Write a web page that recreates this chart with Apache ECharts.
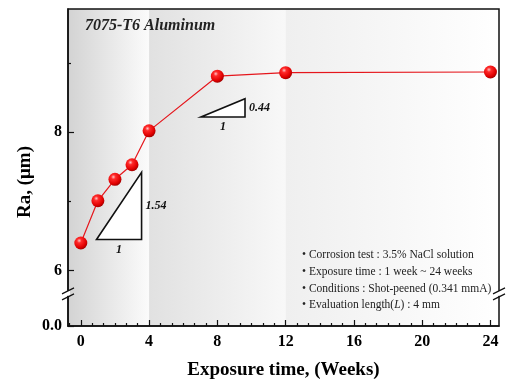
<!DOCTYPE html>
<html>
<head>
<meta charset="utf-8">
<script src="https://cdn.jsdelivr.net/npm/echarts@6.0.0/dist/echarts.min.js"></script>
<style>
html, body { margin: 0; padding: 0; background: #fff; }
#main { width: 508px; height: 385px; }
</style>
</head>
<body>
<div id="main"></div>
<script>
// Ra vs exposure time
const weeks = [0, 1, 2, 3, 4, 8, 12, 24];
const roughness = [6.40, 7.01, 7.32, 7.53, 8.02, 8.81, 8.86, 8.87];
const xTicks = [0, 4, 8, 12, 16, 20, 24];
const yTicks = [0, 6, 8];
const yMinorTicks = [7, 9];
// slope triangles (corners in data units) and their labels
const slopeTriangles = [
    [[0.92, 6.45], [3.56, 6.45], [3.56, 7.42]],
    [[7.04, 8.22], [9.62, 8.22], [9.62, 8.485]],
];
const slopeLabels = ['1.54', '0.44'];
const notes = [
    'Corrosion test : 3.5% NaCl solution',
    'Exposure time : 1 week ~ 24 weeks',
    'Conditions : Shot-peened (0.341 mmA)',
    'Evaluation length(L) : 4 mm',
];
const bands = [
    [-0.75, 4, '#d3d3d3', '#fbfbfb'],
    [4, 12, '#e1e1e1', '#f8f8f8'],
    [12, 24.5, '#efefef', '#ffffff'],
];

const xMinor = [];
for (let k = -1; k <= 36; k++) {
    if (k % 6 !== 0) xMinor.push(k * 2 / 3);
}

const serif = 'Liberation Serif';
const yBreak = { start: 0.43, end: 5.7, gap: '1.5%' };
const axisColor = '#111';

const chart = echarts.init(document.getElementById('main'));

const option = {
    animation: false,
    grid: {
        left: 68,
        right: 9,
        top: 9,
        bottom: 58,
        show: true,
        borderColor: axisColor,
        borderWidth: 1.5,
        backgroundColor: 'transparent',
    },
    xAxis: [
        {
            type: 'value',
            min: -0.75,
            max: 24.5,
            position: 'bottom',
            name: 'Exposure time, (Weeks)',
            nameLocation: 'middle',
            nameGap: 35,
            nameTextStyle: {
                fontFamily: serif,
                fontWeight: 'bold',
                fontSize: 19,
                color: '#000',
            },
            axisLine: { show: true, onZero: false, lineStyle: { color: axisColor, width: 1.5 } },
            axisTick: {
                inside: true,
                length: 6,
                customValues: xTicks,
                lineStyle: { color: axisColor, width: 1.2 },
            },
            axisLabel: {
                customValues: xTicks,
                fontFamily: serif,
                fontWeight: 'bold',
                fontSize: 16,
                color: '#000',
                margin: 8,
            },
            splitLine: { show: false },
        },
        {
            type: 'value',
            min: -0.75,
            max: 24.5,
            position: 'bottom',
            axisLine: { show: false, onZero: false },
            axisTick: {
                inside: true,
                length: 3,
                customValues: xMinor,
                lineStyle: { color: axisColor, width: 1.2 },
            },
            axisLabel: { show: false },
            splitLine: { show: false },
        },
    ],
    yAxis: [
        {
            type: 'value',
            min: 0,
            max: 9.78,
            position: 'left',
            breaks: [yBreak],
            breakArea: { show: false, itemStyle: { opacity: 0 } },
            axisLine: { show: true, onZero: false, lineStyle: { color: axisColor, width: 1.5 } },
            axisTick: {
                inside: true,
                length: 6,
                customValues: yTicks,
                lineStyle: { color: axisColor, width: 1.2 },
            },
            axisLabel: {
                customValues: yTicks,
                formatter: (v) => (v === 0 ? '0.0' : String(v)),
                fontFamily: serif,
                fontWeight: 'bold',
                fontSize: 16,
                color: '#000',
                margin: 6,
            },
            splitLine: { show: false },
        },
        {
            type: 'value',
            min: 0,
            max: 9.78,
            position: 'left',
            breaks: [yBreak],
            breakArea: { show: false, itemStyle: { opacity: 0 } },
            axisLine: { show: false, onZero: false },
            axisTick: {
                inside: true,
                length: 3,
                customValues: yMinorTicks,
                lineStyle: { color: axisColor, width: 1.2 },
            },
            axisLabel: { show: false },
            splitLine: { show: false },
        },
    ],
    series: [
        {
            // background bands
            type: 'line',
            data: [],
            z: -2,
            silent: true,
            markArea: {
                silent: true,
                z: -2,
                data: bands.map((b) => [
                    {
                        xAxis: b[0],
                        itemStyle: {
                            color: new echarts.graphic.LinearGradient(0, 0, 1, 0, [
                                { offset: 0, color: b[2] },
                                { offset: 1, color: b[3] },
                            ]),
                        },
                    },
                    { xAxis: b[1] },
                ]),
            },
        },
        {
            type: 'custom',
            z: 3,
            silent: true,
            data: slopeTriangles.map((t) => t[0]),
            renderItem: (params, api) => {
                const tri = slopeTriangles[params.dataIndex];
                const pts = tri.map((p) => api.coord(p));
                const lbl = { font: 'italic bold 12px ' + serif, fill: '#111' };
                return {
                    type: 'group',
                    children: [
                        {
                            type: 'polygon',
                            shape: { points: pts },
                            style: { fill: '#fff', stroke: '#111', lineWidth: 1.6 },
                        },
                        {
                            type: 'text',
                            x: pts[1][0] + 4,
                            y: (pts[1][1] + pts[2][1]) / 2,
                            style: Object.assign({ text: slopeLabels[params.dataIndex], align: 'left', verticalAlign: 'middle' }, lbl),
                        },
                        {
                            type: 'text',
                            x: (pts[0][0] + pts[1][0]) / 2,
                            y: pts[0][1] + 4,
                            style: Object.assign({ text: '1', align: 'center', verticalAlign: 'top' }, lbl),
                        },
                    ],
                };
            },
        },
        {
            name: 'Ra',
            type: 'line',
            z: 4,
            data: weeks.map((w, i) => [w, roughness[i]]),
            symbol: 'circle',
            symbolSize: 13,
            lineStyle: { color: '#e5161c', width: 1.2 },
            itemStyle: {
                color: new echarts.graphic.RadialGradient(0.38, 0.32, 0.7, [
                    { offset: 0, color: '#ffc4c4' },
                    { offset: 0.25, color: '#ff2a2a' },
                    { offset: 0.75, color: '#e00000' },
                    { offset: 1, color: '#a00000' },
                ]),
            },
        },
    ],
};

chart.setOption(option);

// decorations: title, y name, notes box, axis break marks
const yTop = chart.convertToPixel({ yAxisIndex: 0 }, yBreak.end);
const yBot = chart.convertToPixel({ yAxisIndex: 0 }, yBreak.start);
const yMid = (yTop + yBot) / 2;
const xLeft = chart.convertToPixel({ xAxisIndex: 0 }, -0.75);
const xRight = chart.convertToPixel({ xAxisIndex: 0 }, 24.5);

const breakMarks = [];
[xLeft, xRight].forEach((x) => {
    breakMarks.push({
        type: 'rect',
        shape: { x: x - 2, y: yMid - 3, width: 4, height: 5 },
        style: { fill: '#fff' },
        z: 10,
    });
    [-3, 3].forEach((dy) => {
        breakMarks.push({
            type: 'line',
            shape: { x1: x - 6, y1: yMid + dy + 3, x2: x + 6, y2: yMid + dy - 3 },
            style: { stroke: '#111', lineWidth: 1.2 },
            z: 11,
        });
    });
});

const noteText = notes.map((n) => '• ' + n.replace('(L)', '({i|L})')).join('\n');

chart.setOption({
    graphic: [
        {
            type: 'text',
            left: 85,
            top: 18,
            z: 20,
            style: {
                text: '7075-T6 Aluminum',
                font: 'italic bold 16px ' + serif,
                fill: '#222',
            },
        },
        {
            type: 'text',
            x: 25,
            y: 182,
            rotation: Math.PI / 2,
            z: 20,
            style: {
                text: 'Ra, (μm)',
                font: 'bold 19px ' + serif,
                fill: '#000',
                align: 'center',
                verticalAlign: 'middle',
            },
        },
        {
            type: 'text',
            left: 302,
            top: 247,
            z: 20,
            style: {
                text: noteText,
                font: '11.5px ' + serif,
                fill: '#222',
                lineHeight: 16.7,
                rich: {
                    i: { font: 'italic 11.5px ' + serif, fill: '#222', lineHeight: 16.7 },
                },
            },
        },
    ].concat(breakMarks),
});
</script>
</body>
</html>
